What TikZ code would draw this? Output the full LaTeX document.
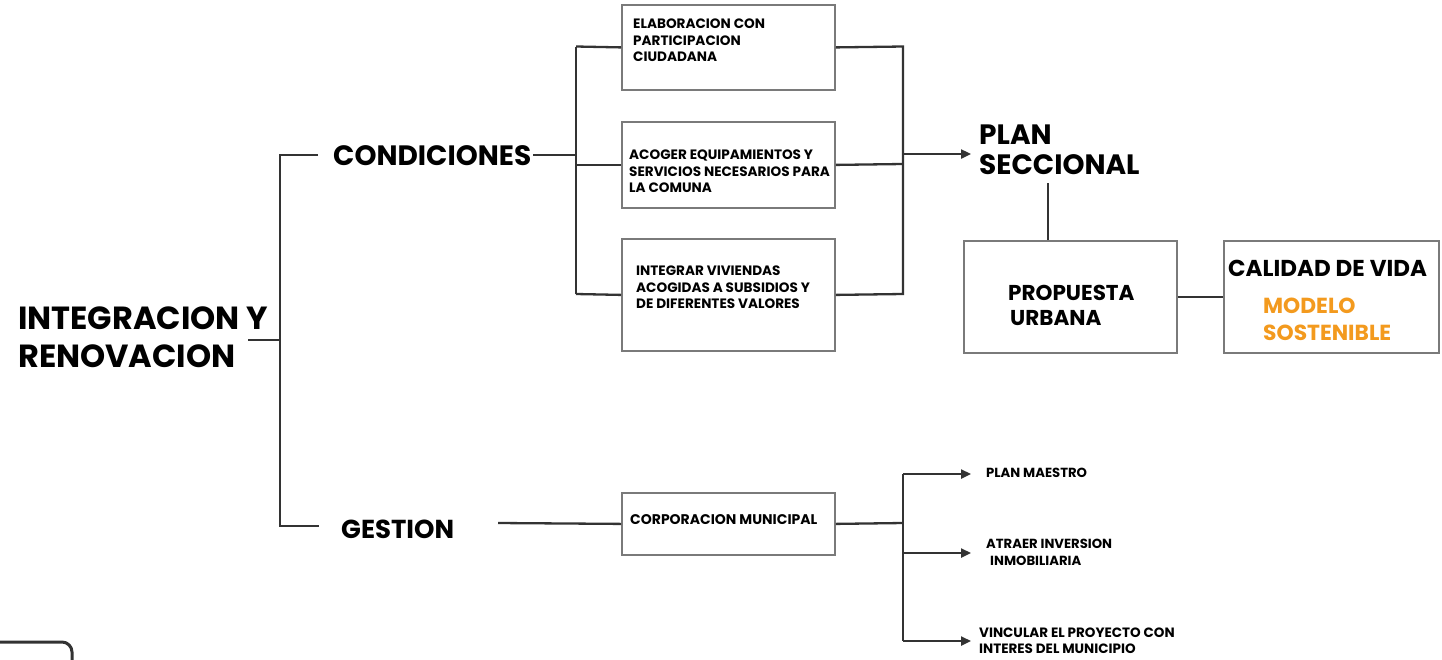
\documentclass[tikz,border=0pt]{standalone}
\usepackage{fontspec}
\setmainfont{Poppins}
\usetikzlibrary{arrows.meta}
\definecolor{ln}{HTML}{333333}
\definecolor{bx}{HTML}{7A7A7A}
\definecolor{org}{HTML}{F39A1E}
\tikzset{
  conn/.style={draw=ln, line width=2.3pt},
  arr/.style={conn, -{Triangle[length=10pt,width=9pt]}},
  box/.style={draw=bx, line width=1.8pt, fill=white, inner sep=0pt, anchor=north west},
  txt/.style={inner sep=0pt, anchor=north west, align=left, text=black},
  big/.style={txt, font=\fontsize{32}{38}\selectfont\bfseries},
  mid/.style={txt, font=\fontsize{28}{30}\selectfont\bfseries},
  med/.style={txt, font=\fontsize{23}{26}\selectfont\bfseries},
  sml/.style={txt, font=\fontsize{13.6}{16.5}\selectfont\bfseries},
  rsm/.style={txt, font=\fontsize{13.2}{16}\selectfont\bfseries},
}
\begin{document}
\begin{tikzpicture}[x=1pt,y=-1pt]
\useasboundingbox (0,0) rectangle (1442,659);
\clip (0,0) rectangle (1442,659);
\fill[white] (0,0) rectangle (1442,659);

% boxes
\node[box, minimum width=213pt, minimum height=85pt] (b1) at (621,4) {};
\node[box, minimum width=213pt, minimum height=86pt] (b2) at (621,121) {};
\node[box, minimum width=213pt, minimum height=112pt] (b3) at (621,238) {};
\node[box, minimum width=213pt, minimum height=62pt] (corp) at (621,492) {};
\node[box, minimum width=213pt, minimum height=112pt] (prop) at (963,240) {};
\node[box, minimum width=215pt, minimum height=112pt] (cal) at (1223,240) {};

% texts
\node[big] (intY) at (18,307) {INTEGRACION Y\\RENOVACION};
\node[mid] (cond) at (333,145) {CONDICIONES};
\node[txt, font=\fontsize{26}{30}\selectfont\bfseries] (gest) at (341,520) {GESTION};
\node[sml] (t1) at (633,19) {ELABORACION CON\\PARTICIPACION\\CIUDADANA};
\node[sml] (t2) at (629,150) {ACOGER EQUIPAMIENTOS Y\\SERVICIOS NECESARIOS PARA\\LA COMUNA};
\node[sml] (t3) at (636,266) {INTEGRAR VIVIENDAS\\ACOGIDAS A SUBSIDIOS Y\\DE DIFERENTES VALORES};
\node[txt, font=\fontsize{14}{18}\selectfont\bfseries] (tc) at (630,514) {CORPORACION MUNICIPAL};
\node[mid] (plan) at (979,125) {PLAN\\SECCIONAL};
\node[txt, font=\fontsize{21.5}{25}\selectfont\bfseries] (tp) at (1008,285) {PROPUESTA\\\hspace*{2pt}URBANA};
\node[med] (tcal) at (1228,260) {CALIDAD DE VIDA};
\node[txt, text=org, font=\fontsize{21.8}{27}\selectfont\bfseries] (tmod) at (1263,298) {MODELO\\SOSTENIBLE};
\node[rsm] (pm) at (986,468) {PLAN MAESTRO};
\node[rsm, font=\fontsize{13.2}{17}\selectfont\bfseries] (atr) at (986,539) {ATRAER INVERSION\\\hspace*{4pt}INMOBILIARIA};
\node[rsm, font=\fontsize{13.5}{15.5}\selectfont\bfseries] (vinc) at (979,628) {VINCULAR EL PROYECTO CON\\INTERES DEL MUNICIPIO};

% junction coordinates
\coordinate (iE) at (248,340);
\coordinate (vM) at (280,340);
\coordinate (vT) at (280,155);
\coordinate (vB) at (280,526);
\coordinate (cL) at (318,155);
\coordinate (gL) at (319,526);
\coordinate (cR) at (533,155);
\coordinate (j1) at (576,155);
\coordinate (j1t) at (576,46.5);
\coordinate (j1b) at (576,294);
\coordinate (k1t) at (903,46.5);
\coordinate (k1b) at (903,294);
\coordinate (k1m) at (903,164);
\coordinate (k1a) at (903,154);
\coordinate (pA) at (971,154);
\coordinate (pS) at (1048,183);
\coordinate (pP) at (1048,240);
\coordinate (gR) at (498,523);
\coordinate (k2m) at (903,523);
\coordinate (k2t) at (903,474);
\coordinate (k2c) at (903,553);
\coordinate (k2b) at (903,641);
\coordinate (a1) at (971,474);
\coordinate (a2) at (971,553);
\coordinate (a3) at (971,641);

% connectors
\draw[conn] (iE) -- (vM);
\draw[conn] (cL) -- (vT) -- (vB) -- (gL);
\draw[conn] (cR) -- (j1);
\draw[conn] (j1t) -- (j1b);
\draw[conn] (j1t) -- (b1.west);
\draw[conn] (j1 |- b2.west) -- (b2.west);
\draw[conn] (j1b) -- (b3.west);
\draw[conn] (b1.east) -- (k1t) -- (k1b) -- (b3.east);
\draw[conn] (b2.east) -- (k1m);
\draw[arr] (k1a) -- (pA);
\draw[conn] (pS) -- (pP);
\draw[conn] (prop.east) -- (cal.west);
\draw[conn] (gR) -- (corp.west);
\draw[conn] (corp.east) -- (k2m);
\draw[conn] (k2t) -- (k2b);
\draw[arr] (k2t) -- (a1);
\draw[arr] (k2c) -- (a2);
\draw[arr] (k2b) -- (a3);

% partial rounded frame at lower left
\draw[ln, line width=3pt, rounded corners=10pt] (-5,642) -- (72,642) -- (72,670);
\end{tikzpicture}
\end{document}
